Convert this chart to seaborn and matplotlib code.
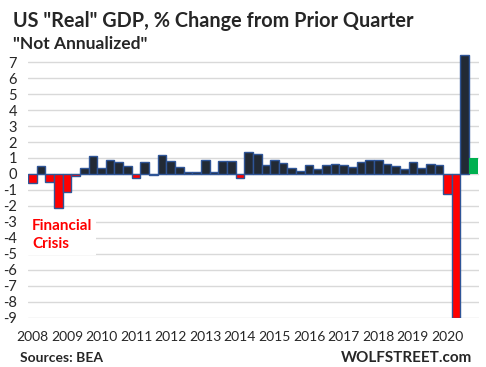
import numpy as np
import pandas as pd
import matplotlib
matplotlib.use("Agg")
import matplotlib.pyplot as plt
import seaborn as sns

# ── Data: real GDP, % change from prior quarter, not annualized ──
years = list(range(2008, 2021))
quarters = [f"{y}Q{q}" for y in years for q in range(1, 5)]
gdp_pct = [
    -0.58, 0.50, -0.50, -2.15,   # 2008
    -1.15, -0.10, 0.35, 1.10,    # 2009
    0.35, 0.90, 0.72, 0.50,      # 2010
    -0.27, 0.72, -0.05, 1.17,    # 2011
    0.80, 0.45, 0.10, 0.10,      # 2012
    0.85, 0.10, 0.80, 0.80,      # 2013
    -0.27, 1.35, 1.25, 0.55,     # 2014
    0.90, 0.68, 0.35, 0.17,      # 2015
    0.55, 0.30, 0.55, 0.60,      # 2016
    0.55, 0.42, 0.72, 0.90,      # 2017
    0.90, 0.65, 0.48, 0.30,      # 2018
    0.72, 0.35, 0.62, 0.55,      # 2019
    -1.25, -9.00, 7.44, 0.98,    # 2020
]
year_labels = [str(y) for y in years]
y_ticks = list(range(-9, 8))

kind = ["neg" if v < 0 else "pos" for v in gdp_pct]
kind[-1] = "latest"
df = pd.DataFrame({"quarter": quarters, "pct": gdp_pct, "kind": kind})

palette = {"neg": "#ff0000", "pos": "#222a35", "latest": "#00b050"}
edge_blue = "#2f5597"

# ── Figure ────────────────────────────────────────────────────
sns.set_style("white")
plt.rcParams["font.family"] = ["Lato", "DejaVu Sans"]

fig = plt.figure(figsize=(4.86, 3.67), dpi=100)
ax = fig.add_axes([0.0576, 0.1327, 0.929, 0.7193])

sns.barplot(data=df, x="quarter", y="pct", hue="kind", order=quarters,
            palette=palette, saturation=1, dodge=False, legend=False,
            width=1.0, edgecolor=edge_blue, linewidth=1.0, ax=ax, zorder=3)

# latest quarter drawn without the blue outline
green = matplotlib.colors.to_rgb(palette["latest"])
for p in ax.patches:
    if np.allclose(p.get_facecolor()[:3], green, atol=0.02):
        p.set_edgecolor("none")

ax.set_xlim(-0.5, 51.7)
ax.set_ylim(-9.05, 7.5)
ax.set_yticks(y_ticks)
ax.set_yticklabels([str(t) for t in y_ticks], fontsize=10.5)
ax.set_xticks(range(0, 52, 4))
ax.set_xticklabels(year_labels, fontsize=10)
ax.tick_params(axis="both", length=0)
ax.tick_params(axis="y", pad=8)
ax.tick_params(axis="x", pad=9)
ax.set_xlabel("")
ax.set_ylabel("")
ax.yaxis.grid(True, color="#d9d9d9", linewidth=1.0, zorder=0)
ax.set_axisbelow(True)
for s in ax.spines.values():
    s.set_visible(False)

# ── Text ──────────────────────────────────────────────────────
fig.text(0.027, 0.943, 'US "Real" GDP, % Change from Prior Quarter',
         fontsize=14.3, fontweight="bold", va="center", ha="left")
fig.text(0.027, 0.88, '"Not Annualized"',
         fontsize=12.5, fontweight="bold", va="center", ha="left")
ax.text(-0.05, -3.85, "Financial\nCrisis", color="#ff0000", fontsize=11,
        fontweight="bold", va="center", ha="left", linespacing=1.35,
        zorder=5, bbox=dict(facecolor="white", edgecolor="none", pad=3))
fig.text(0.041, 0.025, "Sources: BEA", fontsize=10, fontweight="bold",
         va="center", ha="left")
fig.text(0.971, 0.025, "WOLFSTREET.com", fontsize=11, fontweight="bold",
         va="center", ha="right")

fig.savefig("out.png", dpi=100)
